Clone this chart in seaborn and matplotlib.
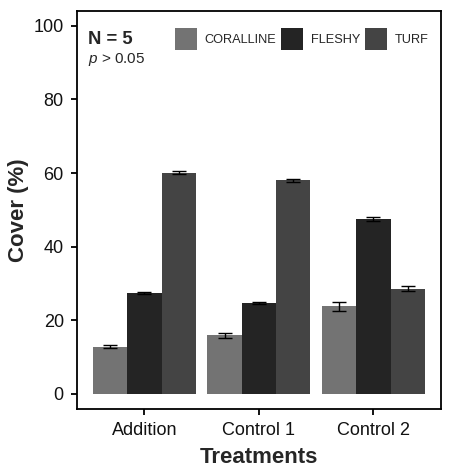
import matplotlib
matplotlib.use("Agg")
import matplotlib.pyplot as plt
import seaborn as sns
import numpy as np
import pandas as pd


treatments = ["Addition", "Control 1", "Control 2"]
groups = ["CORALLINE", "FLESHY", "TURF"]

# mean cover (%) per group, one list per treatment order above
coralline_mean = [12.8, 15.9, 23.8]
fleshy_mean = [27.4, 24.6, 47.6]
turf_mean = [60.1, 58.0, 28.6]

# standard errors
coralline_se = [0.4, 0.6, 1.3]
fleshy_se = [0.3, 0.3, 0.5]
turf_se = [0.4, 0.4, 0.6]

colors = ["#737373", "#242424", "#444444"]

y_ticks = [0, 20, 40, 60, 80, 100]


# build a long table for seaborn
means = [coralline_mean, fleshy_mean, turf_mean]
ses = [coralline_se, fleshy_se, turf_se]
rows = []
for g, m_list, s_list in zip(groups, means, ses):
    for t, m, s in zip(treatments, m_list, s_list):
        rows.append({"treatment": t, "group": g, "cover": m, "se": s})
df = pd.DataFrame(rows)

sns.set_style("ticks")
plt.rcParams["font.family"] = ["Liberation Sans", "DejaVu Sans"]
plt.rcParams["mathtext.fontset"] = "custom"
plt.rcParams["mathtext.it"] = "Liberation Sans:italic"
plt.rcParams["mathtext.rm"] = "Liberation Sans"

fig = plt.figure(figsize=(4.5, 4.69), dpi=100)
ax = fig.add_axes([0.171, 0.128, 0.809, 0.849])

sns.barplot(data=df, x="treatment", y="cover", hue="group",
            order=treatments, hue_order=groups, palette=colors,
            width=0.9, errorbar=None, linewidth=0, saturation=1, ax=ax)

# error bars on top of each bar, taken from the bar geometry
for container, g in zip(ax.containers, groups):
    sub = df[df["group"] == g].set_index("treatment").loc[treatments]
    xs = [b.get_x() + b.get_width() / 2 for b in container]
    ax.errorbar(xs, sub["cover"], yerr=sub["se"], fmt="none",
                ecolor="black", elinewidth=1.0, capsize=5, capthick=1.0,
                zorder=5)

ax.set_xlim(-0.59, 2.59)
ax.set_ylim(-4.1, 104.1)
ax.set_yticks(y_ticks)

for side in ["top", "right", "left", "bottom"]:
    ax.spines[side].set_visible(True)
    ax.spines[side].set_color("black")
    ax.spines[side].set_linewidth(1.3)

ax.tick_params(axis="both", length=4, width=1.3, color="black",
               labelsize=13, labelcolor="#111111", pad=5.5)

ax.set_xlabel("Treatments", fontsize=16, fontweight="bold", labelpad=5.5)
ax.set_ylabel("Cover (%)", fontsize=16, fontweight="bold", labelpad=3)

ax.legend(loc="center right", bbox_to_anchor=(0.967, 0.930), ncol=3,
          frameon=False, fontsize=9.2, handlelength=1.72, handleheight=2.27,
          handletextpad=0.6, columnspacing=0.4, borderpad=0,
          borderaxespad=0)

ax.text(0.03, 0.916, "N = 5", transform=ax.transAxes, fontsize=13.3,
        fontweight="bold", va="baseline", ha="left")
ax.text(0.03, 0.869, r"$p$ > 0.05", transform=ax.transAxes, fontsize=11,
        va="baseline", ha="left")

fig.savefig("out.png", dpi=100)
